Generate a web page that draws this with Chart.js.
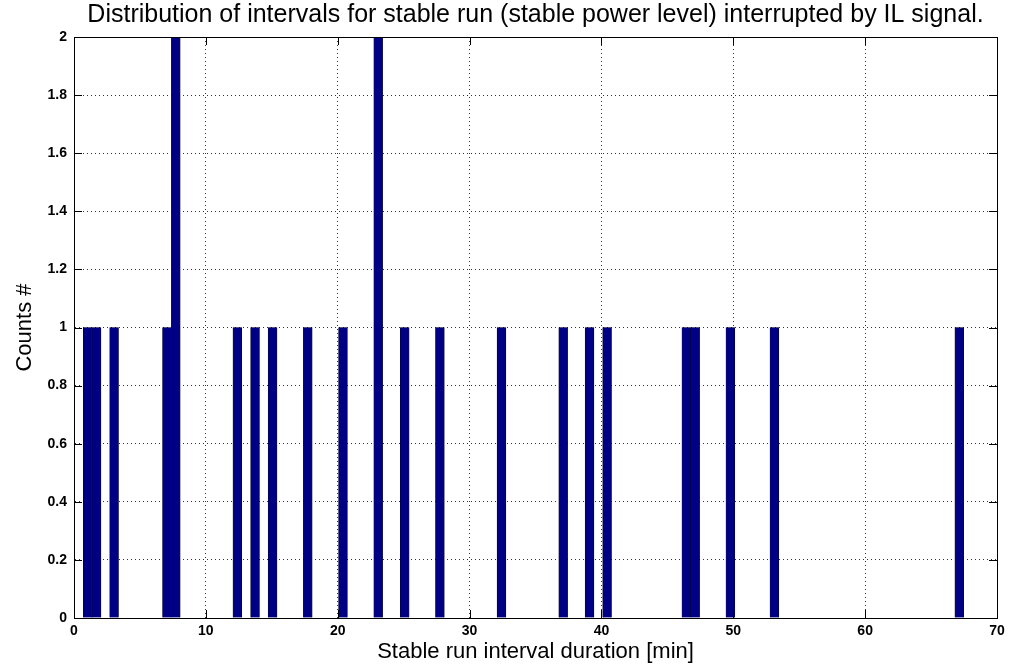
<!DOCTYPE html>
<html>
<head>
<meta charset="utf-8">
<title>Stable run interval distribution</title>
<script src="https://cdn.jsdelivr.net/npm/chart.js@4/dist/chart.umd.min.js"></script>
<style>
  html, body { margin: 0; padding: 0; background: #ffffff; }
  #wrap { width: 1019px; height: 664px; position: relative; }
</style>
</head>
<body>
<div id="wrap"><canvas id="chart" width="1019" height="664"></canvas></div>
<script>
// Histogram bins (centres in minutes) that hold at least one interval
const binCenters = [1.04, 1.71, 3.04, 7.05, 7.72, 12.39, 13.73, 15.06, 17.73, 20.40,
                    23.07, 25.08, 27.75, 32.42, 37.10, 39.10, 40.43, 46.44, 47.11,
                    49.78, 53.12, 67.14];
const binCounts  = [1, 1, 1, 1, 2, 1, 1, 1, 1, 1,
                    2, 1, 1, 1, 1, 1, 1, 1, 1,
                    1, 1, 1];

const titleText  = 'Distribution of intervals for stable run (stable power level) interrupted by IL signal.';
const xAxisTitle = 'Stable run interval duration [min]';
const yAxisTitle = 'Counts #';

const FONT = '"Liberation Sans", Arial, Helvetica, sans-serif';

// Box around the plot plus short inward tick marks on all four sides
const boxTicks = {
  id: 'boxTicks',
  afterDraw(chart) {
    const { ctx, chartArea: a, scales } = chart;
    const len = 8;
    ctx.save();
    ctx.strokeStyle = '#000000';
    ctx.lineWidth = 1;
    ctx.setLineDash([]);
    ctx.beginPath();
    scales.x.ticks.forEach(t => {
      const px = Math.round(scales.x.getPixelForValue(t.value)) + 0.5;
      ctx.moveTo(px, a.bottom); ctx.lineTo(px, a.bottom - len);
      ctx.moveTo(px, a.top);    ctx.lineTo(px, a.top + len);
    });
    scales.y.ticks.forEach(t => {
      const py = Math.round(scales.y.getPixelForValue(t.value)) + 0.5;
      ctx.moveTo(a.left, py);  ctx.lineTo(a.left + len, py);
      ctx.moveTo(a.right, py); ctx.lineTo(a.right - len, py);
    });
    ctx.stroke();
    ctx.strokeRect(Math.round(a.left) + 0.5, Math.round(a.top) + 0.5,
                   Math.round(a.right - a.left), Math.round(a.bottom - a.top));
    ctx.restore();
  }
};

new Chart(document.getElementById('chart'), {
  type: 'bar',
  data: {
    datasets: [{
      data: binCenters.map((c, i) => ({ x: c, y: binCounts[i] })),
      backgroundColor: '#000084',
      borderColor: '#000033',
      borderWidth: 0.6,
      barPercentage: 1.0,
      categoryPercentage: 1.0
    }]
  },
  plugins: [boxTicks],
  options: {
    responsive: false,
    animation: false,
    layout: { padding: { left: 0, right: 22, top: 0, bottom: 0 } },
    plugins: {
      legend: { display: false },
      tooltip: { enabled: false },
      title: {
        display: true,
        fullSize: false,
        text: titleText,
        color: '#000000',
        font: { family: FONT, size: 25, weight: 'normal', lineHeight: 1.2 },
        padding: { top: 0, bottom: 7 }
      }
    },
    scales: {
      x: {
        type: 'linear',
        min: 0, max: 70,
        offset: false,
        grid: { color: '#333333', lineWidth: 1, drawTicks: false, offset: false },
        border: { display: true, color: '#000000', width: 1, dash: [1, 3] },
        ticks: {
          stepSize: 10, color: '#000000', padding: 5, maxRotation: 0,
          font: { family: FONT, size: 14, weight: 'bold' }
        },
        title: {
          display: true, text: xAxisTitle, color: '#000000',
          font: { family: FONT, size: 22, weight: 'normal', lineHeight: 1.1 },
          padding: { top: 0, bottom: 0 }
        },
        afterFit(scale) { scale.height = 46; }
      },
      y: {
        min: 0, max: 2,
        grid: { color: '#333333', lineWidth: 1, drawTicks: false },
        border: { display: true, color: '#000000', width: 1, dash: [1, 3] },
        ticks: {
          stepSize: 0.2, color: '#000000', padding: 7,
          font: { family: FONT, size: 14, weight: 'bold' },
          callback: v => String(Number(v.toFixed(1)))
        },
        title: {
          display: true, text: yAxisTitle, color: '#000000',
          font: { family: FONT, size: 22, weight: 'normal', lineHeight: 1.1 },
          padding: { top: 13, bottom: 0 }
        },
        afterFit(scale) { scale.width = 74; }
      }
    }
  }
});
</script>
</body>
</html>
